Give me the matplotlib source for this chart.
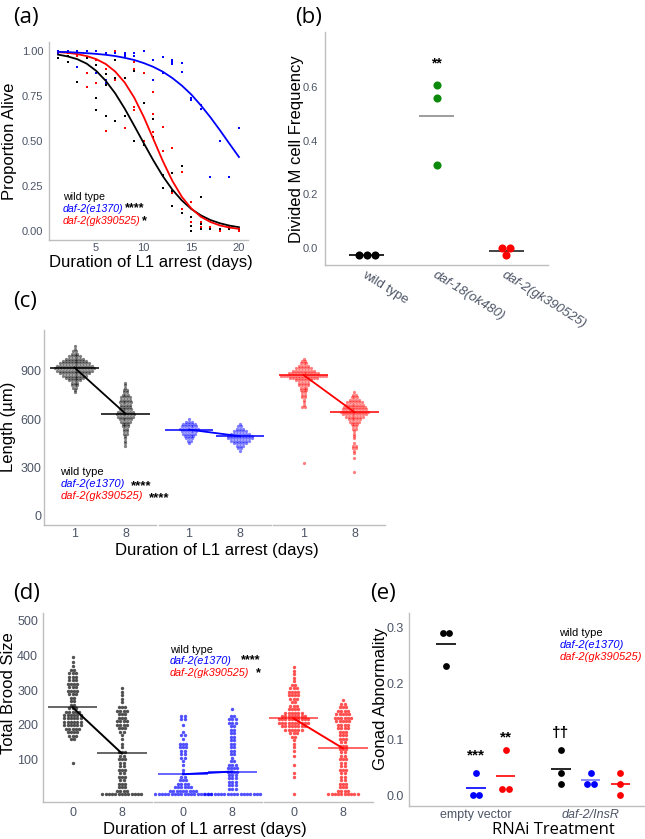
import numpy as np
from matplotlib import pyplot as plt

plt.rcParams['font.family'] = ['Liberation Sans', 'DejaVu Sans']

W, H = 645, 839
TICK_COL = '#4C5566'
AXIS_COL = '#BEBEBE'
BLUE = '#0000FF'
RED = '#FF0000'
GREEN = '#0B8A0B'

# ---------------- (a) survival during L1 arrest ----------------
surv_days = list(range(1, 21))
fit_wt = [0.980, 0.970, 0.955, 0.930, 0.890, 0.835, 0.765, 0.680, 0.585, 0.488,
          0.393, 0.305, 0.230, 0.170, 0.122, 0.087, 0.061, 0.043, 0.030, 0.021]
fit_e1370 = [0.995, 0.994, 0.991, 0.988, 0.984, 0.979, 0.972, 0.962, 0.950, 0.933,
             0.912, 0.885, 0.850, 0.808, 0.758, 0.698, 0.632, 0.560, 0.485, 0.411]
fit_gk = [0.994, 0.990, 0.983, 0.972, 0.955, 0.928, 0.886, 0.825, 0.741, 0.634,
          0.512, 0.389, 0.279, 0.190, 0.125, 0.079, 0.050, 0.031, 0.019, 0.012]
pts_wt = [(1, 0.99), (1, 0.96), (2, 0.97), (2, 0.94), (3, 0.97), (3, 0.83), (4, 0.96),
          (5, 0.92), (5, 0.74), (5, 0.67), (6, 0.87), (6, 0.81), (6, 0.64), (7, 0.95),
          (7, 0.85), (7, 0.61), (8, 0.85), (8, 0.64), (9, 0.89), (9, 0.50), (10, 0.71),
          (10, 0.48), (11, 0.62), (11, 0.52), (12, 0.31), (12, 0.24), (13, 0.32),
          (13, 0.22), (13, 0.14), (14, 0.36), (14, 0.12), (14, 0.10), (15, 0.08),
          (15, 0.05), (15, 0.03), (15, 0.0), (16, 0.19), (16, 0.04), (16, 0.01),
          (17, 0.01), (18, 0.01), (19, 0.01), (20, 0.01)]
pts_e1370 = [(1, 1.0), (1, 0.99), (2, 1.0), (3, 1.0), (3, 0.91), (4, 1.0), (5, 1.0),
             (5, 0.88), (6, 0.99), (6, 0.84), (6, 0.82), (7, 0.99), (8, 0.99), (8, 0.98),
             (8, 0.97), (9, 0.99), (9, 0.97), (10, 1.0), (11, 0.95), (11, 0.84),
             (12, 0.965), (12, 0.88), (13, 0.95), (13, 0.94), (13, 0.93), (14, 0.935),
             (14, 0.885), (15, 0.74), (15, 0.73), (16, 0.70), (16, 0.68), (17, 0.30),
             (18, 0.50), (19, 0.30), (20, 0.575)]
pts_gk = [(1, 1.0), (2, 0.99), (3, 0.97), (4, 0.88), (4, 0.80), (5, 0.95), (5, 0.82),
          (6, 0.90), (6, 0.557), (7, 1.0), (7, 0.84), (8, 0.97), (8, 0.57), (9, 0.94),
          (9, 0.90), (9, 0.69), (9, 0.67), (10, 0.88), (10, 0.50), (11, 0.77),
          (11, 0.65), (11, 0.55), (12, 0.576), (12, 0.444), (13, 0.46), (13, 0.21),
          (14, 0.33), (14, 0.12), (15, 0.16), (15, 0.05), (16, 0.05), (16, 0.02),
          (17, 0.02), (18, 0.0), (19, 0.03), (20, 0.0)]

# ---------------- (b) M cell division ----------------
mcell_labels = ['wild type', 'daf-18(ok480)', 'daf-2(gk390525)']
mcell_wt = [-0.025, -0.025, -0.025]
mcell_daf18 = [0.61, 0.56, 0.31]
mcell_daf2 = [0.0, 0.0, -0.025]
mcell_means = [-0.025, 0.493, -0.011]

# ---------------- (c) length (value, count) ----------------
len_days = ['1', '8']
len_wt_d1 = [(1050, 1), (1035, 1), (1020, 2), (1005, 3), (990, 5), (975, 7), (960, 9),
             (945, 11), (930, 13), (915, 14), (900, 13), (885, 11), (870, 9), (855, 7),
             (840, 5), (825, 3), (810, 3), (795, 2), (780, 1), (765, 1)]
len_wt_d8 = [(825, 1), (810, 1), (795, 1), (780, 2), (765, 2), (750, 3), (735, 4), (720, 4),
             (705, 5), (690, 4), (675, 4), (660, 5), (645, 6), (630, 7), (615, 6), (600, 5),
             (585, 4), (570, 3), (555, 3), (540, 2), (525, 2), (510, 2), (495, 1), (480, 1),
             (465, 1), (450, 1), (435, 1)]
len_e1370_d1 = [(600, 1), (585, 3), (570, 5), (555, 6), (540, 7), (525, 6), (510, 5),
                (495, 4), (480, 3), (465, 2), (450, 1)]
len_e1370_d8 = [(570, 1), (555, 2), (540, 3), (525, 5), (510, 7), (495, 9), (480, 9),
                (465, 7), (450, 5), (435, 3), (420, 2), (405, 1)]
len_gk_d1 = [(975, 1), (960, 2), (945, 3), (930, 4), (915, 6), (900, 8), (885, 11),
             (870, 16), (855, 10), (840, 6), (825, 4), (810, 4), (795, 3), (780, 3),
             (765, 2), (750, 2), (735, 2), (720, 1), (705, 1), (690, 1), (675, 2), (330, 1)]
len_gk_d8 = [(765, 1), (750, 2), (735, 3), (720, 4), (705, 6), (690, 7), (675, 8), (660, 9),
             (645, 10), (630, 9), (615, 7), (600, 5), (585, 4), (570, 3), (555, 2), (540, 2),
             (525, 1), (510, 1), (495, 1), (480, 1), (450, 1), (435, 2), (420, 2), (405, 1),
             (390, 1), (360, 1), (270, 1)]
len_mean_wt = [919, 634]
len_mean_e1370 = [535, 494]
len_mean_gk = [873, 643]

# ---------------- (d) brood size (value, count) ----------------
brood_days = ['0', '8']
brood_wt_d0 = [(396, 1), (380, 1), (368, 1), (358, 2), (348, 3), (338, 3), (328, 3),
               (318, 4), (308, 3), (298, 4), (288, 3), (278, 2), (268, 2), (258, 2),
               (248, 3), (238, 5), (228, 6), (218, 6), (208, 6), (198, 6), (188, 5),
               (178, 4), (168, 3), (158, 2), (90, 1)]
brood_wt_d8 = [(305, 1), (295, 1), (285, 1), (275, 1), (265, 1), (250, 3), (240, 4),
               (230, 3), (220, 3), (210, 4), (200, 4), (190, 3), (180, 2), (170, 1),
               (160, 1), (145, 1), (135, 1), (120, 3), (110, 2), (100, 3), (90, 2), (80, 2),
               (70, 3), (60, 2), (50, 3), (40, 2), (30, 3), (20, 3), (10, 4), (0, 13)]
brood_e1370_d0 = [(225, 2), (215, 2), (200, 1), (180, 1), (170, 2), (160, 1), (145, 3),
                  (135, 3), (125, 2), (115, 2), (105, 2), (95, 1), (85, 1), (70, 1), (60, 1),
                  (50, 2), (40, 3), (30, 4), (20, 6), (10, 9), (0, 18)]
brood_e1370_d8 = [(245, 1), (225, 2), (215, 3), (205, 3), (195, 2), (185, 2), (175, 2),
                  (165, 2), (155, 2), (145, 2), (135, 2), (125, 2), (115, 2), (105, 1),
                  (95, 2), (85, 3), (75, 4), (65, 4), (55, 3), (45, 3), (35, 3), (25, 3),
                  (15, 3), (0, 18)]
brood_gk_d0 = [(365, 1), (355, 1), (345, 1), (335, 1), (325, 1), (315, 2), (305, 3),
               (295, 4), (285, 4), (275, 3), (265, 2), (255, 3), (245, 4), (235, 6),
               (225, 8), (215, 10), (205, 10), (195, 8), (185, 6), (175, 3), (165, 2),
               (155, 1), (145, 1), (135, 1), (125, 1), (110, 1), (85, 1), (60, 1), (50, 1),
               (0, 1)]
brood_gk_d8 = [(270, 1), (260, 2), (250, 3), (240, 4), (230, 5), (220, 6), (210, 5),
               (200, 4), (190, 4), (180, 3), (170, 3), (160, 3), (150, 2), (140, 3),
               (130, 3), (120, 2), (110, 2), (100, 3), (90, 2), (80, 2), (70, 3), (60, 2),
               (50, 2), (40, 2), (30, 3), (20, 3), (10, 4), (0, 10)]
brood_mean_wt = [250, 117]
brood_mean_e1370 = [57, 65]
brood_mean_gk = [218, 132]

# ---------------- (e) gonad abnormality ----------------
rnai_labels = ['empty vector', 'daf-2/InsR']
gonad_wt = [[0.29, 0.29, 0.23], [0.08, 0.04, 0.02]]
gonad_e1370 = [[0.04, 0.0, 0.0], [0.04, 0.02, 0.02]]
gonad_gk = [[0.08, 0.01, 0.01], [0.04, 0.02, 0.0]]

fig = plt.figure(figsize=(W / 100, H / 100), dpi=100)


def px_axes(left, top, right, bottom):
    return fig.add_axes([left / W, 1 - bottom / H, (right - left) / W, (bottom - top) / H])


def ptext(x, y, s, **kw):
    return fig.text(x / W, 1 - y / H, s, **kw)


def style(ax, left=True, labelsize=8):
    ax.patch.set_alpha(0)
    ax.spines['top'].set_visible(False)
    ax.spines['right'].set_visible(False)
    ax.spines['left'].set_visible(left)
    for s in ('left', 'bottom'):
        ax.spines[s].set_color(AXIS_COL)
        ax.spines[s].set_linewidth(1.0)
    ax.tick_params(length=0, labelcolor=TICK_COL, labelsize=labelsize)
    if not left:
        ax.set_yticks([])


def dot_rows(ax, x0, bins, spacing, **kw):
    xs, ys = [], []
    for v, n in bins:
        xs.extend(x0 + (np.arange(n) - (n - 1) / 2) * spacing)
        ys.extend([v] * n)
    ax.scatter(xs, ys, linewidths=0, **kw)


def value_bins(vals):
    u, c = np.unique(vals, return_counts=True)
    return list(zip(u, c))


def legend3(ax, x, y, dy, size, stars=None, star_off=2, star_size=None, star_dy=(-1.5, -1.5)):
    labels = []
    for i, (s, col, st) in enumerate([('wild type', 'black', 'normal'),
                                      ('daf-2(e1370)', BLUE, 'italic'),
                                      ('daf-2(gk390525)', RED, 'italic')]):
        labels.append(ptext(x, y + i * dy, s, color=col, fontstyle=st,
                            fontsize=size, va='center', ha='left'))
    if stars:
        for lab, st, sdy in zip(labels[1:], stars, star_dy):
            ax.annotate(st, xy=(1, 0.5), xycoords=lab, xytext=(star_off, sdy),
                        textcoords='offset points', va='center', ha='left',
                        fontsize=star_size or size + 2.5, fontweight='bold',
                        annotation_clip=False)
    return labels


# ---------------- panel (a) ----------------
ax = px_axes(49, 42, 248, 240)
style(ax)
for pts, col in ((pts_wt, 'black'), (pts_gk, RED), (pts_e1370, BLUE)):
    d, v = zip(*pts)
    ax.scatter(d, v, s=2.2, marker='s', color=col, linewidths=0)
ax.plot(surv_days, fit_wt, color='black', lw=1.3)
ax.plot(surv_days, fit_gk, color=RED, lw=1.3)
ax.plot(surv_days, fit_e1370, color=BLUE, lw=1.3)
ax.set_xlim(0.05, 20.95)
ax.set_ylim(-0.05, 1.05)
ax.set_xticks([5, 10, 15, 20])
ax.set_yticks([0, 0.25, 0.5, 0.75, 1.0])
ax.set_yticklabels(['0.00', '0.25', '0.50', '0.75', '1.00'])
ax.tick_params(axis='y', pad=4)
ax.tick_params(axis='x', pad=2.5)
legend3(ax, 62.7, 197.5, 11.5, 7.7, stars=['****', '*'], star_off=1.5, star_size=9,
        star_dy=(0.8, -0.8))
ptext(10, 141, 'Proportion Alive', rotation=90, fontsize=12, va='center', ha='center')
ptext(151, 263, 'Duration of L1 arrest (days)', fontsize=12, va='center', ha='center')

# ---------------- panel (b) ----------------
ax = px_axes(325, 32, 548, 265)
style(ax)
mcell_cols = ['black', GREEN, RED]
mean_cols = ['black', '#8C8C8C', '#222222']
for i, (vals, col) in enumerate(zip([mcell_wt, mcell_daf18, mcell_daf2], mcell_cols)):
    dot_rows(ax, i + 1, value_bins(vals), 0.114, s=34, color=col, zorder=3)
    ax.hlines(mcell_means[i], i + 1 - 0.25, i + 1 + 0.25, color=mean_cols[i], lw=1.2, zorder=2)
ax.text(2, 0.69, '**', ha='center', va='center', fontsize=10, fontweight='bold')
ax.set_xlim(0.4, 3.6)
ax.set_ylim(-0.063, 0.806)
ax.set_yticks([0, 0.2, 0.4, 0.6])
ax.set_yticklabels(['0.0', '0.2', '0.4', '0.6'])
ax.set_xticks([1, 2, 3])
ax.set_xticklabels(mcell_labels, rotation=-32, ha='left', va='top',
                   rotation_mode='anchor', fontsize=9.5)
for lab in ax.get_xticklabels()[1:]:
    lab.set_fontstyle('italic')
ax.tick_params(axis='y', pad=5)
ax.tick_params(axis='x', pad=3)
ptext(296, 149, 'Divided M cell Frequency', rotation=90, fontsize=12, va='center', ha='center')

# ---------------- panel (c) ----------------
facet_c = [(44, 156), (158.5, 270.5), (273, 385)]
groups_c = [(len_wt_d1, len_wt_d8, len_mean_wt, 'black'),
            (len_e1370_d1, len_e1370_d8, len_mean_e1370, BLUE),
            (len_gk_d1, len_gk_d8, len_mean_gk, RED)]
for k, ((l, r), (g1, g8, m, col)) in enumerate(zip(facet_c, groups_c)):
    ax = px_axes(l, 330, r, 525)
    style(ax, left=(k == 0), labelsize=9)
    dot_rows(ax, 1, g1, 0.058, s=5.5, color=col, alpha=0.5)
    dot_rows(ax, 2, g8, 0.058, s=5.5, color=col, alpha=0.5)
    ax.hlines(m, [0.52, 1.52], [1.48, 2.48], color=col, lw=1.3, alpha=0.85)
    ax.plot([1, 2], m, color=col, lw=1.3)
    ax.set_xlim(0.4, 2.6)
    ax.set_ylim(-56, 1152)
    ax.set_xticks([1, 2])
    ax.set_xticklabels(len_days)
    if k == 0:
        ax.set_yticks([0, 300, 600, 900])
        ax.tick_params(axis='y', pad=2)
        legend3(ax, 60.4, 471.7, 12.2, 8, stars=['****', '****'], star_off=4.5,
                star_size=9.5)
    ax.tick_params(axis='x', pad=2)
ptext(9, 427, 'Length (µm)', rotation=90, fontsize=12, va='center', ha='center')
ptext(217, 550, 'Duration of L1 arrest (days)', fontsize=12, va='center', ha='center')

# ---------------- panel (d) ----------------
facet_d = [(43, 151.5), (153.5, 262), (264, 372.5)]
groups_d = [(brood_wt_d0, brood_wt_d8, brood_mean_wt, 'black'),
            (brood_e1370_d0, brood_e1370_d8, brood_mean_e1370, BLUE),
            (brood_gk_d0, brood_gk_d8, brood_mean_gk, RED)]
for k, ((l, r), (g0, g8, m, col)) in enumerate(zip(facet_d, groups_d)):
    ax = px_axes(l, 613, r, 801.7)
    style(ax, left=(k == 0), labelsize=9)
    dot_rows(ax, 1, g0, 0.066, s=6, color=col, alpha=0.68)
    dot_rows(ax, 2, g8, 0.066, s=6, color=col, alpha=0.68)
    ax.hlines(m, [0.5, 1.5], [1.5, 2.5], color=col, lw=1.3, alpha=0.65)
    ax.plot([1, 2], m, color=col, lw=1.4)
    ax.set_xlim(0.4, 2.6)
    ax.set_ylim(-22, 522)
    ax.set_xticks([1, 2])
    ax.set_xticklabels(brood_days)
    if k == 0:
        ax.set_yticks([100, 200, 300, 400, 500])
        ax.tick_params(axis='y', pad=3.5)
    ax.tick_params(axis='x', pad=3.5)
legend3(None, 170, 650, 11.3, 7.8)
ptext(260.5, 660, '****', fontsize=9, fontweight='bold', ha='right', va='center')
ptext(260.5, 673.5, '*', fontsize=9, fontweight='bold', ha='right', va='center')
ptext(9, 693, 'Total Brood Size', rotation=90, fontsize=12, va='center', ha='center')
ptext(205, 829.5, 'Duration of L1 arrest (days)', fontsize=12, va='center', ha='center')

# ---------------- panel (e) ----------------
ax = px_axes(409.3, 613, 645, 806)
style(ax, labelsize=9)
offsets = [-0.26, 0.0, 0.26]
strain_cols = ['black', BLUE, RED]
line_alpha = [[1, 1, 1], [1, 0.55, 1]]
for j, (data, col) in enumerate(zip([gonad_wt, gonad_e1370, gonad_gk], strain_cols)):
    for i in range(2):
        x0 = i + 1 + offsets[j]
        dot_rows(ax, x0, value_bins(data[i]), 0.058, s=24, color=col, zorder=3)
        ax.hlines(np.mean(data[i]), x0 - 0.085, x0 + 0.085, color=col, lw=1.2,
                  alpha=line_alpha[i][j], zorder=2)
ax.text(1.0, 0.07, '***', ha='center', va='center', fontsize=11, fontweight='bold')
ax.text(1.26, 0.102, '**', ha='center', va='center', fontsize=11, fontweight='bold')
ax.text(1.74, 0.111, '††', ha='center', va='center', fontsize=11, fontweight='bold')
ax.set_xlim(0.42, 2.474)
ax.set_ylim(-0.0196, 0.325)
ax.set_yticks([0, 0.1, 0.2, 0.3])
ax.set_yticklabels(['0.0', '0.1', '0.2', '0.3'])
ax.set_xticks([1, 2])
ax.set_xticklabels(rnai_labels)
ax.get_xticklabels()[1].set_fontstyle('italic')
ax.tick_params(axis='y', pad=4)
ax.tick_params(axis='x', pad=2)
legend3(None, 559.3, 633, 12, 8)
ptext(380, 699, 'Gonad Abnormality', rotation=90, fontsize=12, va='center', ha='center')
ptext(553, 838.5, 'RNAi Treatment', fontsize=12, family='Open Sans', va='bottom', ha='center')

# panel letters
for lab, x, y in (('(a)', 13, 18), ('(b)', 295, 18), ('(c)', 13, 301),
                  ('(d)', 13, 593), ('(e)', 370, 593)):
    ptext(x, y, lab, fontsize=16, family='Open Sans', va='center', ha='left')

fig.savefig('out.png', dpi=100, facecolor='white')
